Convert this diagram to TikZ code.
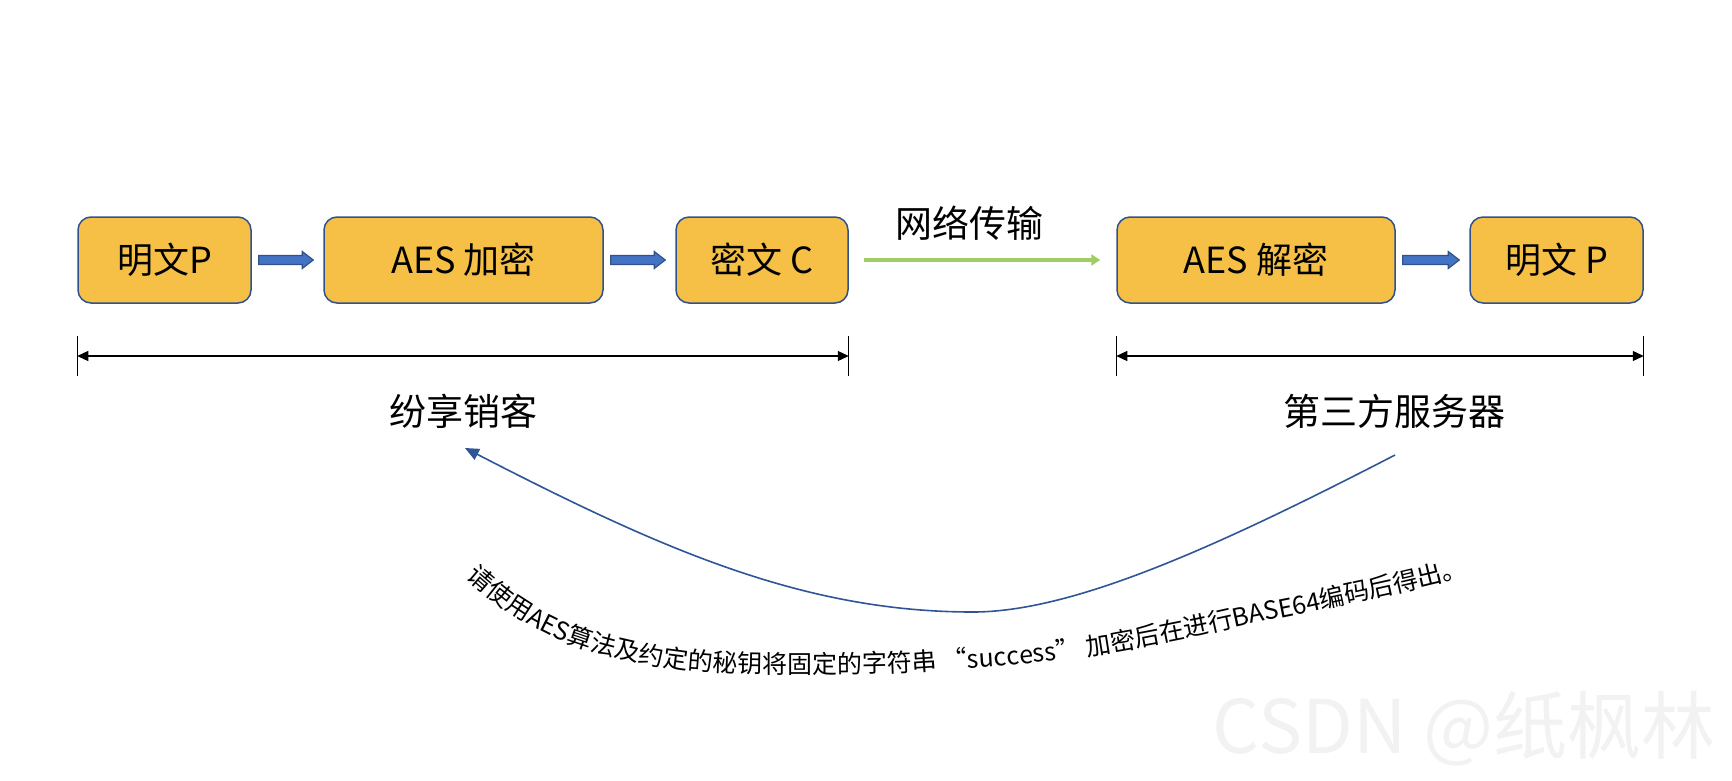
\documentclass[tikz,border=0pt]{standalone}
\usepackage{fontspec}
\setmainfont{Noto Sans CJK SC}
\usepackage{xcolor}
\usepackage{tikz}
\usetikzlibrary{arrows.meta, positioning, calc, decorations.text}
\definecolor{cajaoro}{RGB}{245, 192, 69}
\definecolor{bordeazul}{RGB}{47, 82, 143}
\definecolor{flechaazul}{RGB}{68, 114, 196}
\definecolor{verdered}{RGB}{160, 205, 100}
\definecolor{curvaazul}{RGB}{47, 85, 151}

\begin{document}
\begin{tikzpicture}[x=1pt, y=-1pt,
  caja/.style={draw=bordeazul, line width=1.5pt, fill=cajaoro, rounded corners=13pt, minimum height=86pt, inner sep=0pt, font=\fontsize{36}{40}\selectfont},
  flechabloque/.style={draw=bordeazul, line width=1.2pt, fill=flechaazul},
  cota/.style={line width=1.2pt, {Triangle[length=11pt,width=10pt]}-{Triangle[length=11pt,width=10pt]}},
  rotulo/.style={inner sep=0pt, font=\fontsize{37}{40}\selectfont}]
  \useasboundingbox (0,0) rectangle (1732,780);
  % cajas del flujo
  \node[caja, minimum width=173pt] (p1) at (164.5,260) {明文P};
  \node[caja, minimum width=279pt, right=71.5pt of p1] (enc) {AES 加密};
  \node[caja, minimum width=172pt, right=71.5pt of enc] (c) {密文 C};
  \node[caja, minimum width=278pt, right=267.5pt of c] (dec) {AES 解密};
  \node[caja, minimum width=173pt, right=73.5pt of dec] (p2) {明文 P};
  \foreach \a/\b in {p1/enc, enc/c, dec/p2} { \draw[flechabloque] ($(\a.east)+(7,-4.5)$) -- ($(\b.west)+(-21,-4.5)$) -- ($(\b.west)+(-21,-8.5)$) -- ($(\b.west)+(-10,0)$) -- ($(\b.west)+(-21,8.5)$) -- ($(\b.west)+(-21,4.5)$) -- ($(\a.east)+(7,4.5)$) -- cycle; }
  \draw[verdered, line width=4pt, shorten <=15pt, shorten >=16pt, -{Triangle[length=9pt,width=11pt]}] (c) -- node[rotulo, text=black, yshift=37pt, xshift=-13pt] (red) {网络传输} (dec);
  % cotas
  \foreach \i/\l/\r in {1/p1/c, 2/dec/p2} { \coordinate (cl\i) at ($(\l.west)+(0,96)$); \coordinate (cr\i) at ($(\r.east)+(0,96)$); \draw[cota] (cl\i) -- (cr\i); \draw[line width=1.2pt] ($(cl\i)+(0,-20)$) -- ($(cl\i)+(0,20)$); \draw[line width=1.2pt] ($(cr\i)+(0,-20)$) -- ($(cr\i)+(0,20)$); }
  \node[rotulo] (cliente) at ($(cl1)!0.5!(cr1)+(0,55)$) {纷享销客};
  \node[rotulo] (servidor) at ($(cl2)!0.5!(cr2)+(14,55)$) {第三方服务器};
  % curva de regreso
  \coordinate (ini) at ($(servidor.center)+(1,44)$);
  \coordinate (fin) at ($(cliente.center)+(2,37)$);
  \coordinate (fondo) at (973,612);
  \draw[curvaazul, line width=1.6pt, -{Triangle[length=14pt,width=12pt]}] (ini) .. controls +(-178,92) and +(100,0) .. (fondo) .. controls +(-170,0) and +(196,101) .. (fin);
  \path[decorate, decoration={text along path, text align=left, text={|\fontsize{25}{25}\selectfont|请使用AES算法及约定的秘钥将固定的字符串 “success” 加密后在进行BASE64编码后得出。}}] plot[smooth, tension=0.5] coordinates {(466,577) (486,594) (508,611) (532,626) (558,639) (586,649) (616,657) (648,664) (682,669) (720,672) (760,673) (800,673) (850,673) (900,672) (950,669) (1000,666) (1050,661) (1100,654) (1150,645) (1200,635) (1250,624) (1300,614) (1350,603) (1400,592) (1450,580) (1500,567) (1550,554)};
  \node[font=\fontsize{74}{76}\selectfont, text=black!5, inner sep=0pt] (marca) at (1464,729) {CSDN @纸枫林};
\end{tikzpicture}
\end{document}
